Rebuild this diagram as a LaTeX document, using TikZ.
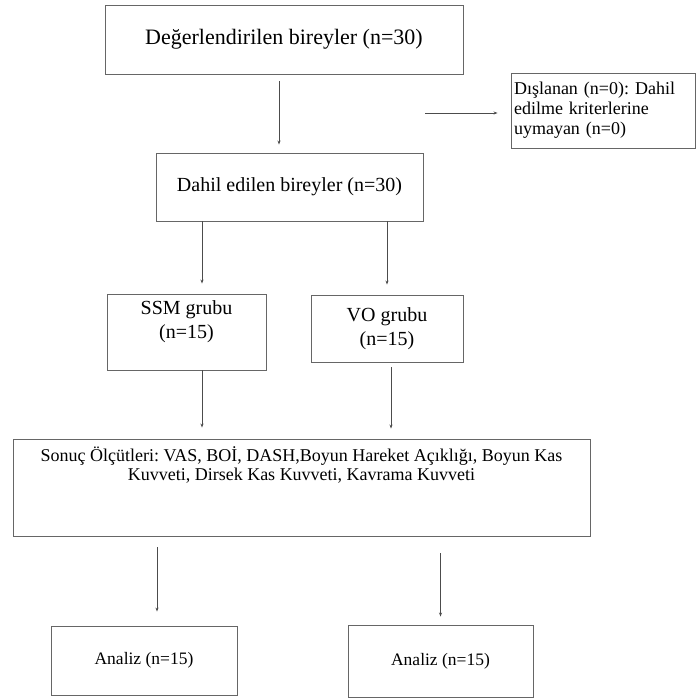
\documentclass[tikz,border=0pt]{standalone}
\usepackage{fontspec}
\setmainfont{Liberation Serif}
\usepackage{tikz}
\usetikzlibrary{arrows.meta}
\frenchspacing

\begin{document}
\begin{tikzpicture}[
    x=1pt, y=1pt,
    every node/.style={font=\fontsize{20}{24}\selectfont},
    % plain flow boxes
    flowbox/.style={
        rectangle,
        draw=black!60,
        line width=0.9pt,
        align=center,
        inner sep=2pt
    },
    flowarrow/.style={draw=black!70, line width=0.9pt, -{Stealth[length=4pt,width=3pt]}}
]
\useasboundingbox (0,0) rectangle (698,-697);

% Screening and inclusion
\node[flowbox, minimum width=358, minimum height=69, font=\fontsize{22}{26}\selectfont] (assessed) at (284,-39.5) {Değerlendirilen bireyler (n=30)};
\node[flowbox, align=left, text width=178, inner xsep=3pt, minimum height=75, font=\fontsize{18}{20}\selectfont] (excluded) at (603,-110.5) {Dışlanan (n=0): Dahil\\edilme kriterlerine\\uymayan (n=0)};
\node[flowbox, minimum width=267, minimum height=68] (included) at (289.5,-187) {Dahil edilen bireyler (n=30)};
\coordinate (exstart) at (425,-113);

% Groups
\node[flowbox, minimum width=159, minimum height=76] (ssm) at (186.5,-332) {SSM grubu\\(n=15)\\\mbox{}};
\node[flowbox, minimum width=152, minimum height=67] (vo) at (387,-328.5) {VO grubu\\(n=15)};

% Outcomes
\node[flowbox, minimum width=577, minimum height=97, font=\fontsize{18}{19.5}\selectfont] (outcomes) at (301.5,-487.5) {Sonuç Ölçütleri: VAS, BOİ, DASH,Boyun Hareket Açıklığı, Boyun Kas\\Kuvveti, Dirsek Kas Kuvveti, Kavrama Kuvveti\\[28pt]\mbox{}};

% Analysis
\node[flowbox, minimum width=186, minimum height=69, font=\fontsize{17.5}{20}\selectfont] (analysisL) at (144,-660.5) {Analiz (n=15)};
\node[flowbox, minimum width=185, minimum height=72, font=\fontsize{17.5}{20}\selectfont] (analysisR) at (440.5,-661) {Analiz (n=15)};

% Connectors
\draw[flowarrow, shorten <=7, shorten >=8] ([xshift=-5]assessed.south) -- ([xshift=-5]assessed.south |- included.north);
\draw[flowarrow, shorten >=13] (exstart) -- (exstart -| excluded.west);
\draw[flowarrow, shorten >=10] ([xshift=15.5]ssm.north |- included.south) -- ([xshift=15.5]ssm.north);
\draw[flowarrow, shorten >=10] (vo.north |- included.south) -- (vo.north);
\draw[flowarrow, shorten >=11] ([xshift=15.5]ssm.south) -- ([xshift=15.5]ssm.south |- outcomes.north);
\draw[flowarrow, shorten <=5, shorten >=10] ([xshift=4]vo.south) -- ([xshift=4]vo.south |- outcomes.north);
\draw[flowarrow, shorten <=11, shorten >=14] ([xshift=13]analysisL.north |- outcomes.south) -- ([xshift=13]analysisL.north);
\draw[flowarrow, shorten <=17, shorten >=8] (analysisR.north |- outcomes.south) -- (analysisR.north);

\end{tikzpicture}
\end{document}
